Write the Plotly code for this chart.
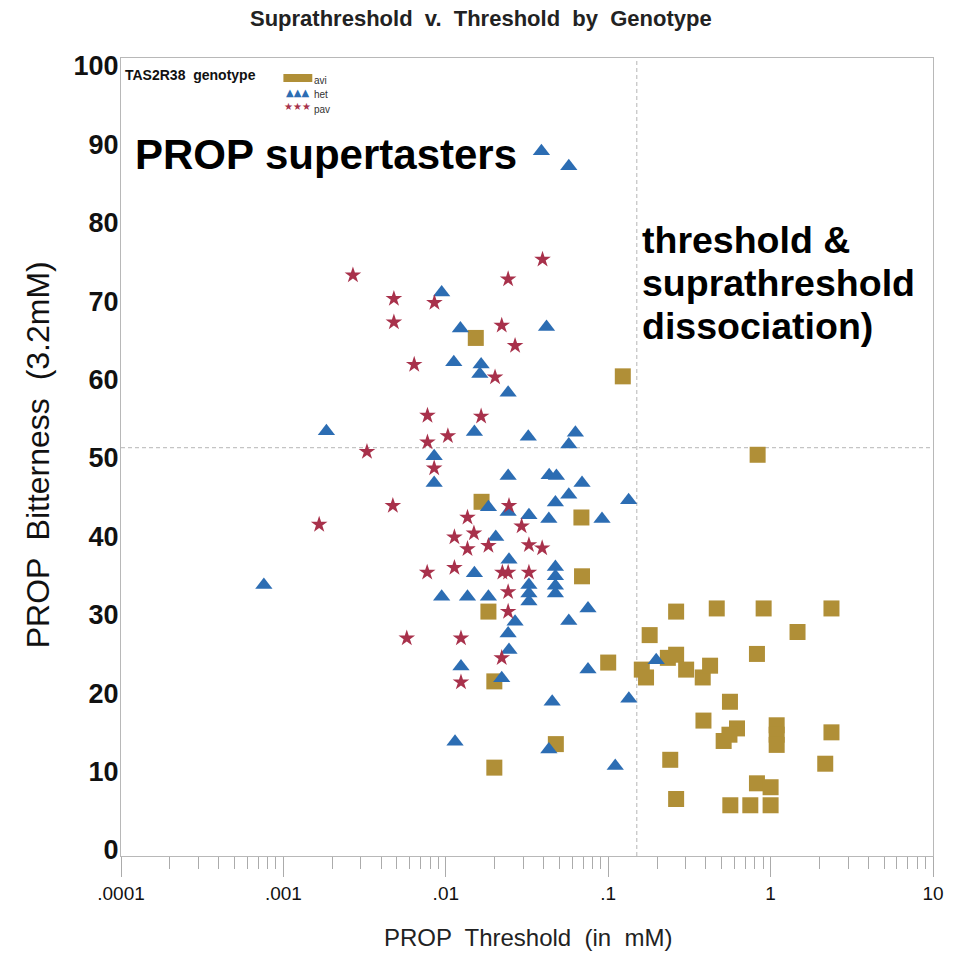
import plotly.graph_objects as go

# TAS2R38 genotype groups: PROP threshold (mM) and bitterness rating at 3.2 mM
avi_threshold = [0.0153, 0.123, 0.832, 0.0166, 0.0684, 0.069, 0.0183, 0.180, 0.100, 0.161,
                 0.171, 0.0199, 0.0199, 0.0476, 0.262, 0.466, 0.906, 2.37, 1.465, 0.824,
                 0.233, 0.262, 0.302, 0.382, 0.424, 0.562, 0.386, 0.621, 0.558, 0.514,
                 1.09, 1.09, 1.09, 2.37, 2.17, 0.241, 0.824, 1.0, 0.262, 0.565, 0.75, 1.0]
avi_bitterness = [65.3, 60.4, 50.4, 44.4, 42.4, 34.9, 30.4, 27.4, 23.9, 23.0,
                  22.0, 21.5, 10.5, 13.5, 30.4, 30.8, 30.8, 30.8, 27.8, 25.0,
                  24.5, 24.9, 23.0, 22.0, 23.5, 18.9, 16.5, 15.5, 14.7, 13.9,
                  15.9, 14.7, 13.4, 15.0, 11.0, 11.5, 8.5, 8.0, 6.5, 5.7, 5.7, 5.7]

het_threshold = [0.0388, 0.0572, 0.00943, 0.0417, 0.0123, 0.0112, 0.0165, 0.0162, 0.0242, 0.00184,
                 0.0150, 0.0322, 0.0628, 0.0572, 0.00848, 0.00848, 0.0242, 0.0433, 0.048, 0.069,
                 0.0572, 0.0473, 0.1336, 0.0183, 0.0242, 0.0325, 0.0431, 0.0916, 0.0203, 0.0245,
                 0.0150, 0.0473, 0.0473, 0.0473, 0.0473, 0.0325, 0.0325, 0.0325, 0.00943, 0.0136,
                 0.0183, 0.0751, 0.0572, 0.0267, 0.0242, 0.0245, 0.0124, 0.0221, 0.0751, 0.1975,
                 0.0452, 0.134, 0.0114, 0.0431, 0.1105, 0.000758]
het_bitterness = [89.1, 87.2, 71.1, 66.7, 66.5, 62.2, 61.9, 60.7, 58.3, 53.4,
                  53.3, 52.7, 53.2, 51.7, 50.2, 46.8, 47.7, 47.8, 47.7, 46.8,
                  45.3, 44.3, 44.6, 43.7, 43.1, 42.7, 42.2, 42.2, 39.9, 37.0,
                  35.3, 36.1, 34.9, 33.7, 32.7, 33.8, 32.7, 31.7, 32.3, 32.3,
                  32.3, 30.8, 29.2, 29.1, 27.6, 25.5, 23.4, 21.9, 23.0, 24.2,
                  18.9, 19.3, 13.8, 12.8, 10.7, 33.8]

pav_threshold = [0.00268, 0.00479, 0.00851, 0.00479, 0.0242, 0.0394, 0.0221, 0.0267, 0.00639, 0.0201,
                 0.00771, 0.0165, 0.0103, 0.00771, 0.00327, 0.00848, 0.00472, 0.00166, 0.0136, 0.0113,
                 0.0149, 0.0136, 0.00768, 0.0113, 0.00575, 0.0124, 0.0124, 0.0245, 0.0293, 0.0183,
                 0.0325, 0.0392, 0.0223, 0.0242, 0.0325, 0.0242, 0.0242, 0.0221]
pav_bitterness = [73.3, 70.3, 69.8, 67.3, 72.8, 75.3, 66.9, 64.3, 61.9, 60.3,
                  55.4, 55.3, 52.8, 52.0, 50.8, 48.7, 43.9, 41.5, 42.4, 39.9,
                  40.4, 38.4, 35.4, 36.0, 27.0, 27.0, 21.4, 43.9, 41.3, 38.8,
                  38.9, 38.5, 35.4, 35.4, 35.4, 32.9, 30.4, 24.5]

# Reference cut points splitting the plane into quadrants
threshold_cut = 0.15
bitterness_cut = 51.3

x_tick_values = [0.0001, 0.001, 0.01, 0.1, 1, 10]
x_tick_labels = [".0001", ".001", ".01", ".1", "1", "10"]
y_tick_values = [0, 10, 20, 30, 40, 50, 60, 70, 80, 90, 100]
y_range = [-0.77, 101.0]

GOLD = "#B08F37"
BLUE = "#2C6DB3"
RED = "#A8314B"
GRID_DASH = "#B5B5B5"
FONT = "Liberation Sans, Arial, sans-serif"

fig = go.Figure()

# Vertical dashed threshold line, drawn in data space so the log axis places it
fig.add_trace(go.Scatter(x=[threshold_cut, threshold_cut], y=y_range, mode="lines",
                         line=dict(color=GRID_DASH, width=1, dash="4px,3px"),
                         hoverinfo="skip", showlegend=False))
fig.add_shape(type="line", xref="paper", yref="y",
              x0=0, x1=1, y0=bitterness_cut, y1=bitterness_cut,
              line=dict(color=GRID_DASH, width=1, dash="4px,3px"), layer="below")

fig.add_trace(go.Scatter(x=avi_threshold, y=avi_bitterness, mode="markers", name="avi",
                         marker=dict(symbol="square", size=16, color=GOLD, line=dict(width=0))))
fig.add_trace(go.Scatter(x=het_threshold, y=het_bitterness, mode="markers", name="het",
                         marker=dict(symbol="triangle-up", size=15, color=BLUE, line=dict(width=0))))
fig.add_trace(go.Scatter(x=pav_threshold, y=pav_bitterness, mode="markers", name="pav",
                         marker=dict(symbol="star", size=12.5, color=RED, line=dict(width=0))))

minor_ticks = [m * 10 ** e for e in range(-4, 1) for m in range(2, 10)]

fig.update_xaxes(type="log", range=[-4, 1],
                 tickmode="array", tickvals=x_tick_values, ticktext=x_tick_labels,
                 ticks="outside", ticklen=20, tickwidth=1, tickcolor="#ABABAB",
                 minor=dict(tickmode="array", tickvals=minor_ticks, ticks="outside",
                            ticklen=12, tickwidth=1, tickcolor="#ABABAB", showgrid=False),
                 showline=True, linecolor="#B8B8B8", linewidth=1, mirror=True,
                 showgrid=False, zeroline=False,
                 tickfont=dict(family=FONT, size=19, color="#111111"),
                 ticklabelstandoff=0)
fig.update_yaxes(range=y_range,
                 tickmode="array", tickvals=y_tick_values,
                 ticktext=["<b>%d</b>" % v for v in y_tick_values],
                 ticks="", showline=True, linecolor="#B8B8B8", linewidth=1, mirror=True,
                 showgrid=False, zeroline=False,
                 tickfont=dict(family=FONT, size=27, color="#111111"),
                 ticklabelstandoff=-4)

L, R, T, B = 121, 20, 58, 98
W, H = 956, 954
pw, ph = W - L - R, H - T - B


def px(xp):
    return (xp - L) / pw


def py(yp):
    return (H - B - yp) / ph


annotations = [
    dict(text="<b>Suprathreshold  v.  Threshold  by  Genotype</b>", x=px(482), y=py(18),
         xanchor="center", yanchor="middle", font=dict(size=22, color="#222222")),
    dict(text="PROP  Threshold  (in  mM)", x=px(530), y=py(937),
         xanchor="center", yanchor="middle", font=dict(size=24, color="#222222")),
    dict(text="PROP  Bitterness  (3.2mM)", x=px(38), y=py(455), textangle=-90,
         xanchor="center", yanchor="middle", font=dict(size=32, color="#111111")),
    dict(text="<b>PROP supertasters</b>", x=px(133), y=py(155),
         xanchor="left", yanchor="middle", font=dict(size=42, color="#000000")),
    dict(text="<b>threshold &</b>", x=px(642), y=py(240),
         xanchor="left", yanchor="middle", font=dict(size=37.5, color="#000000")),
    dict(text="<b>suprathreshold</b>", x=px(642), y=py(283),
         xanchor="left", yanchor="middle", font=dict(size=37.5, color="#000000")),
    dict(text="<b>dissociation)</b>", x=px(642), y=py(326),
         xanchor="left", yanchor="middle", font=dict(size=37.5, color="#000000")),
    dict(text="<b>TAS2R38  genotype</b>", x=px(123), y=py(75),
         xanchor="left", yanchor="middle", font=dict(size=14, color="#111111")),
    dict(text="▲▲▲", x=px(298), y=py(92), xanchor="center", yanchor="middle",
         font=dict(family="DejaVu Sans", size=10, color=BLUE)),
    dict(text="★★★", x=px(298), y=py(106), xanchor="center", yanchor="middle",
         font=dict(family="DejaVu Sans", size=10, color=RED)),
    dict(text="avi", x=px(313), y=py(80), xanchor="left", yanchor="middle",
         font=dict(size=10, color="#333333")),
    dict(text="het", x=px(313), y=py(95), xanchor="left", yanchor="middle",
         font=dict(size=10, color="#333333")),
    dict(text="pav", x=px(313), y=py(109), xanchor="left", yanchor="middle",
         font=dict(size=10, color="#333333")),
]
for a in annotations:
    a.update(xref="paper", yref="paper", showarrow=False)
    a["font"].setdefault("family", FONT)

fig.add_shape(type="rect", xref="paper", yref="paper",
              x0=px(284), x1=px(313), y0=py(82), y1=py(74),
              fillcolor=GOLD, line=dict(width=0))

fig.update_layout(width=W, height=H, margin=dict(l=L, r=R, t=T, b=B),
                  paper_bgcolor="white", plot_bgcolor="white",
                  showlegend=False, annotations=annotations,
                  font=dict(family=FONT))

fig.write_html("out.html")
